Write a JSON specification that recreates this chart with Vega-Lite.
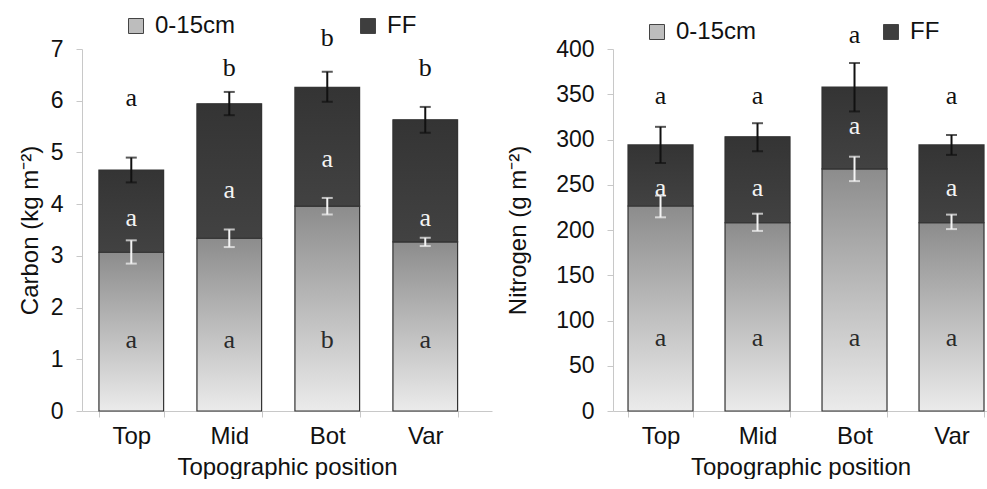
{
  "$schema": "https://vega.github.io/schema/vega-lite/v6.json",
  "background": "white",
  "padding": {"left": 18, "top": 14, "right": 0, "bottom": 0},
  "bounds": "flush",
  "spacing": 121,
  "config": {
    "view": {"stroke": null},
    "font": "Liberation Sans",
    "axis": {
      "grid": false,
      "domainColor": "#c8c8c8",
      "tickColor": "#c8c8c8",
      "labelColor": "#111111",
      "titleColor": "#111111",
      "labelFont": "Liberation Sans",
      "titleFont": "Liberation Sans",
      "titleFontWeight": "normal"
    },
    "axisX": {"labelAngle": 0, "labelFontSize": 24, "titleFontSize": 24, "tickSize": 6, "labelPadding": 7, "titlePadding": 7, "tickBand": "extent"},
    "axisY": {"labelFontSize": 23, "titleFontSize": 24, "tickSize": 6, "labelPadding": 13, "format": "d"},
    "legend": {
      "orient": "none",
      "direction": "horizontal",
      "columns": 2,
      "title": null,
      "padding": 0,
      "symbolType": "square",
      "symbolSize": 225,
      "symbolStrokeColor": "#444444",
      "symbolStrokeWidth": 1,
      "labelFont": "Liberation Sans",
      "labelFontSize": 24,
      "labelColor": "#111111",
      "labelOffset": 7
    }
  },
  "resolve": {"scale": {"color": "independent"}, "legend": {"color": "independent"}},
  "datasets": {
    "carbon": [
      {"pos": "Top", "series": "0-15cm", "base": 0, "top": 3.07, "lo": 2.85, "hi": 3.30, "letter": "a", "ly": 1.22},
      {"pos": "Top", "series": "FF", "base": 3.07, "top": 4.66, "lo": 4.42, "hi": 4.90, "letter": "a", "ly": 3.58},
      {"pos": "Mid", "series": "0-15cm", "base": 0, "top": 3.34, "lo": 3.17, "hi": 3.51, "letter": "a", "ly": 1.22},
      {"pos": "Mid", "series": "FF", "base": 3.34, "top": 5.94, "lo": 5.72, "hi": 6.17, "letter": "a", "ly": 4.12},
      {"pos": "Bot", "series": "0-15cm", "base": 0, "top": 3.96, "lo": 3.80, "hi": 4.12, "letter": "b", "ly": 1.22},
      {"pos": "Bot", "series": "FF", "base": 3.96, "top": 6.26, "lo": 5.98, "hi": 6.56, "letter": "a", "ly": 4.72},
      {"pos": "Var", "series": "0-15cm", "base": 0, "top": 3.27, "lo": 3.19, "hi": 3.35, "letter": "a", "ly": 1.22},
      {"pos": "Var", "series": "FF", "base": 3.27, "top": 5.63, "lo": 5.38, "hi": 5.88, "letter": "a", "ly": 3.58}
    ],
    "carbonTotal": [
      {"pos": "Top", "letter": "a", "ly": 5.90},
      {"pos": "Mid", "letter": "b", "ly": 6.48},
      {"pos": "Bot", "letter": "b", "ly": 7.06},
      {"pos": "Var", "letter": "b", "ly": 6.48}
    ],
    "nitrogen": [
      {"pos": "Top", "series": "0-15cm", "base": 0, "top": 226.5, "lo": 214, "hi": 238, "letter": "a", "ly": 71.8},
      {"pos": "Top", "series": "FF", "base": 226.5, "top": 294, "lo": 274, "hi": 314, "letter": "a", "ly": 237.6},
      {"pos": "Mid", "series": "0-15cm", "base": 0, "top": 208, "lo": 199, "hi": 218, "letter": "a", "ly": 71.8},
      {"pos": "Mid", "series": "FF", "base": 208, "top": 303, "lo": 287, "hi": 318, "letter": "a", "ly": 237.6},
      {"pos": "Bot", "series": "0-15cm", "base": 0, "top": 267.5, "lo": 254, "hi": 281, "letter": "a", "ly": 71.8},
      {"pos": "Bot", "series": "FF", "base": 267.5, "top": 358, "lo": 331, "hi": 384.5, "letter": "a", "ly": 306},
      {"pos": "Var", "series": "0-15cm", "base": 0, "top": 208, "lo": 201, "hi": 217, "letter": "a", "ly": 71.8},
      {"pos": "Var", "series": "FF", "base": 208, "top": 294, "lo": 283, "hi": 305, "letter": "a", "ly": 237.6}
    ],
    "nitrogenTotal": [
      {"pos": "Top", "letter": "a", "ly": 339},
      {"pos": "Mid", "letter": "a", "ly": 339},
      {"pos": "Bot", "letter": "a", "ly": 406.6},
      {"pos": "Var", "letter": "a", "ly": 339}
    ]
  },
  "hconcat": [
    {
      "width": 410,
      "height": 362,
      "data": {"name": "carbon"},
      "layer": [
        {
          "mark": {"type": "bar"},
          "encoding": {
            "x": {"field": "pos", "type": "nominal", "sort": ["Top", "Mid", "Bot", "Var"], "title": "Topographic position",
                  "scale": {"paddingInner": 0.34, "paddingOuter": 0.262, "align": 0.33}},
            "y": {"field": "top", "type": "quantitative", "title": "Carbon (kg m⁻²)",
                  "scale": {"domain": [0, 7], "nice": false},
                  "axis": {"values": [0, 1, 2, 3, 4, 5, 6, 7], "titlePadding": 8}},
            "y2": {"field": "base"},
            "color": {"field": "series", "type": "nominal",
              "scale": {"domain": ["0-15cm", "FF"], "range": ["#bdbdbd", "#3e3e3e"]},
              "legend": {"legendX": 42, "legendY": -35, "columnPadding": 120,
                "encode": {"symbols": {"update": {"fill": [
                  {"test": "datum.value === 'FF'", "value": {"gradient": "linear", "x1": 0, "y1": 0, "x2": 0, "y2": 1, "stops": [{"offset": 0, "color": "#343434"}, {"offset": 1, "color": "#424242"}]}},
                  {"value": {"gradient": "linear", "x1": 0, "y1": 0, "x2": 0, "y2": 1, "stops": [{"offset": 0, "color": "#8c8c8c"}, {"offset": 1, "color": "#ebebeb"}]}}
                ], "stroke": {"value": "#444444"}}}}}}
          }
        },
        {
          "mark": {"type": "bar", "stroke": "#333333", "strokeWidth": 1.2},
          "encoding": {
            "x": {"field": "pos", "type": "nominal", "sort": ["Top", "Mid", "Bot", "Var"], "title": "Topographic position"},
            "y": {"field": "top", "type": "quantitative", "title": "Carbon (kg m⁻²)"},
            "y2": {"field": "base"},
            "fill": {
              "condition": {"test": "datum.series === 'FF'", "value": {"gradient": "linear", "x1": 0, "y1": 0, "x2": 0, "y2": 1, "stops": [{"offset": 0, "color": "#343434"}, {"offset": 1, "color": "#424242"}]}},
              "value": {"gradient": "linear", "x1": 0, "y1": 0, "x2": 0, "y2": 1, "stops": [{"offset": 0, "color": "#8c8c8c"}, {"offset": 1, "color": "#ebebeb"}]}
            }
          }
        },
        {
          "transform": [{"filter": "datum.series === '0-15cm'"}],
          "layer": [
            {"mark": {"type": "rule", "color": "#f4f4f4", "strokeWidth": 2},
             "encoding": {"x": {"field": "pos", "type": "nominal", "sort": ["Top", "Mid", "Bot", "Var"], "title": "Topographic position"},
                          "y": {"field": "lo", "type": "quantitative", "title": "Carbon (kg m⁻²)"}, "y2": {"field": "hi"}}},
            {"mark": {"type": "tick", "color": "#f4f4f4", "size": 11, "thickness": 2, "orient": "horizontal"},
             "encoding": {"x": {"field": "pos", "type": "nominal", "sort": ["Top", "Mid", "Bot", "Var"], "title": "Topographic position"},
                          "y": {"field": "lo", "type": "quantitative", "title": "Carbon (kg m⁻²)"}}},
            {"mark": {"type": "tick", "color": "#f4f4f4", "size": 11, "thickness": 2, "orient": "horizontal"},
             "encoding": {"x": {"field": "pos", "type": "nominal", "sort": ["Top", "Mid", "Bot", "Var"], "title": "Topographic position"},
                          "y": {"field": "hi", "type": "quantitative", "title": "Carbon (kg m⁻²)"}}},
            {"mark": {"type": "text", "font": "Liberation Serif", "fontSize": 26, "baseline": "alphabetic", "color": "#2a2a2a"},
             "encoding": {"x": {"field": "pos", "type": "nominal", "sort": ["Top", "Mid", "Bot", "Var"], "title": "Topographic position"},
                          "y": {"field": "ly", "type": "quantitative", "title": "Carbon (kg m⁻²)"}, "text": {"field": "letter"}}}
          ]
        },
        {
          "transform": [{"filter": "datum.series === 'FF'"}],
          "layer": [
            {"mark": {"type": "rule", "color": "#111111", "strokeWidth": 2},
             "encoding": {"x": {"field": "pos", "type": "nominal", "sort": ["Top", "Mid", "Bot", "Var"], "title": "Topographic position"},
                          "y": {"field": "lo", "type": "quantitative", "title": "Carbon (kg m⁻²)"}, "y2": {"field": "hi"}}},
            {"mark": {"type": "tick", "color": "#111111", "size": 11, "thickness": 2, "orient": "horizontal"},
             "encoding": {"x": {"field": "pos", "type": "nominal", "sort": ["Top", "Mid", "Bot", "Var"], "title": "Topographic position"},
                          "y": {"field": "lo", "type": "quantitative", "title": "Carbon (kg m⁻²)"}}},
            {"mark": {"type": "tick", "color": "#111111", "size": 11, "thickness": 2, "orient": "horizontal"},
             "encoding": {"x": {"field": "pos", "type": "nominal", "sort": ["Top", "Mid", "Bot", "Var"], "title": "Topographic position"},
                          "y": {"field": "hi", "type": "quantitative", "title": "Carbon (kg m⁻²)"}}},
            {"mark": {"type": "text", "font": "Liberation Serif", "fontSize": 26, "baseline": "alphabetic", "color": "#f4f4f4"},
             "encoding": {"x": {"field": "pos", "type": "nominal", "sort": ["Top", "Mid", "Bot", "Var"], "title": "Topographic position"},
                          "y": {"field": "ly", "type": "quantitative", "title": "Carbon (kg m⁻²)"}, "text": {"field": "letter"}}}
          ]
        },
        {
          "data": {"name": "carbonTotal"},
          "mark": {"type": "text", "font": "Liberation Serif", "fontSize": 26, "baseline": "alphabetic", "color": "#111111"},
          "encoding": {"x": {"field": "pos", "type": "nominal", "sort": ["Top", "Mid", "Bot", "Var"], "title": "Topographic position"},
                       "y": {"field": "ly", "type": "quantitative", "title": "Carbon (kg m⁻²)"}, "text": {"field": "letter"}}
        }
      ]
    },
    {
      "width": 375,
      "height": 362,
      "data": {"name": "nitrogen"},
      "layer": [
        {
          "mark": {"type": "bar"},
          "encoding": {
            "x": {"field": "pos", "type": "nominal", "sort": ["Top", "Mid", "Bot", "Var"], "title": "Topographic position",
                  "scale": {"paddingInner": 0.33, "paddingOuter": 0.098, "align": 0.79}},
            "y": {"field": "top", "type": "quantitative", "title": "Nitrogen (g m⁻²)",
                  "scale": {"domain": [0, 400], "nice": false},
                  "axis": {"values": [0, 50, 100, 150, 200, 250, 300, 350, 400], "titlePadding": 25}},
            "y2": {"field": "base"},
            "color": {"field": "series", "type": "nominal",
              "scale": {"domain": ["0-15cm", "FF"], "range": ["#bdbdbd", "#3e3e3e"]},
              "legend": {"legendX": 32, "legendY": -29, "columnPadding": 122,
                "encode": {"symbols": {"update": {"fill": [
                  {"test": "datum.value === 'FF'", "value": {"gradient": "linear", "x1": 0, "y1": 0, "x2": 0, "y2": 1, "stops": [{"offset": 0, "color": "#343434"}, {"offset": 1, "color": "#424242"}]}},
                  {"value": {"gradient": "linear", "x1": 0, "y1": 0, "x2": 0, "y2": 1, "stops": [{"offset": 0, "color": "#8c8c8c"}, {"offset": 1, "color": "#ebebeb"}]}}
                ], "stroke": {"value": "#444444"}}}}}}
          }
        },
        {
          "mark": {"type": "bar", "stroke": "#333333", "strokeWidth": 1.2},
          "encoding": {
            "x": {"field": "pos", "type": "nominal", "sort": ["Top", "Mid", "Bot", "Var"], "title": "Topographic position"},
            "y": {"field": "top", "type": "quantitative", "title": "Nitrogen (g m⁻²)"},
            "y2": {"field": "base"},
            "fill": {
              "condition": {"test": "datum.series === 'FF'", "value": {"gradient": "linear", "x1": 0, "y1": 0, "x2": 0, "y2": 1, "stops": [{"offset": 0, "color": "#343434"}, {"offset": 1, "color": "#424242"}]}},
              "value": {"gradient": "linear", "x1": 0, "y1": 0, "x2": 0, "y2": 1, "stops": [{"offset": 0, "color": "#8c8c8c"}, {"offset": 1, "color": "#ebebeb"}]}
            }
          }
        },
        {
          "transform": [{"filter": "datum.series === '0-15cm'"}],
          "layer": [
            {"mark": {"type": "rule", "color": "#f4f4f4", "strokeWidth": 2},
             "encoding": {"x": {"field": "pos", "type": "nominal", "sort": ["Top", "Mid", "Bot", "Var"], "title": "Topographic position"},
                          "y": {"field": "lo", "type": "quantitative", "title": "Nitrogen (g m⁻²)"}, "y2": {"field": "hi"}}},
            {"mark": {"type": "tick", "color": "#f4f4f4", "size": 11, "thickness": 2, "orient": "horizontal"},
             "encoding": {"x": {"field": "pos", "type": "nominal", "sort": ["Top", "Mid", "Bot", "Var"], "title": "Topographic position"},
                          "y": {"field": "lo", "type": "quantitative", "title": "Nitrogen (g m⁻²)"}}},
            {"mark": {"type": "tick", "color": "#f4f4f4", "size": 11, "thickness": 2, "orient": "horizontal"},
             "encoding": {"x": {"field": "pos", "type": "nominal", "sort": ["Top", "Mid", "Bot", "Var"], "title": "Topographic position"},
                          "y": {"field": "hi", "type": "quantitative", "title": "Nitrogen (g m⁻²)"}}},
            {"mark": {"type": "text", "font": "Liberation Serif", "fontSize": 26, "baseline": "alphabetic", "color": "#2a2a2a"},
             "encoding": {"x": {"field": "pos", "type": "nominal", "sort": ["Top", "Mid", "Bot", "Var"], "title": "Topographic position"},
                          "y": {"field": "ly", "type": "quantitative", "title": "Nitrogen (g m⁻²)"}, "text": {"field": "letter"}}}
          ]
        },
        {
          "transform": [{"filter": "datum.series === 'FF'"}],
          "layer": [
            {"mark": {"type": "rule", "color": "#111111", "strokeWidth": 2},
             "encoding": {"x": {"field": "pos", "type": "nominal", "sort": ["Top", "Mid", "Bot", "Var"], "title": "Topographic position"},
                          "y": {"field": "lo", "type": "quantitative", "title": "Nitrogen (g m⁻²)"}, "y2": {"field": "hi"}}},
            {"mark": {"type": "tick", "color": "#111111", "size": 11, "thickness": 2, "orient": "horizontal"},
             "encoding": {"x": {"field": "pos", "type": "nominal", "sort": ["Top", "Mid", "Bot", "Var"], "title": "Topographic position"},
                          "y": {"field": "lo", "type": "quantitative", "title": "Nitrogen (g m⁻²)"}}},
            {"mark": {"type": "tick", "color": "#111111", "size": 11, "thickness": 2, "orient": "horizontal"},
             "encoding": {"x": {"field": "pos", "type": "nominal", "sort": ["Top", "Mid", "Bot", "Var"], "title": "Topographic position"},
                          "y": {"field": "hi", "type": "quantitative", "title": "Nitrogen (g m⁻²)"}}},
            {"mark": {"type": "text", "font": "Liberation Serif", "fontSize": 26, "baseline": "alphabetic", "color": "#f4f4f4"},
             "encoding": {"x": {"field": "pos", "type": "nominal", "sort": ["Top", "Mid", "Bot", "Var"], "title": "Topographic position"},
                          "y": {"field": "ly", "type": "quantitative", "title": "Nitrogen (g m⁻²)"}, "text": {"field": "letter"}}}
          ]
        },
        {
          "data": {"name": "nitrogenTotal"},
          "mark": {"type": "text", "font": "Liberation Serif", "fontSize": 26, "baseline": "alphabetic", "color": "#111111"},
          "encoding": {"x": {"field": "pos", "type": "nominal", "sort": ["Top", "Mid", "Bot", "Var"], "title": "Topographic position"},
                       "y": {"field": "ly", "type": "quantitative", "title": "Nitrogen (g m⁻²)"}, "text": {"field": "letter"}}
        }
      ]
    }
  ]
}
